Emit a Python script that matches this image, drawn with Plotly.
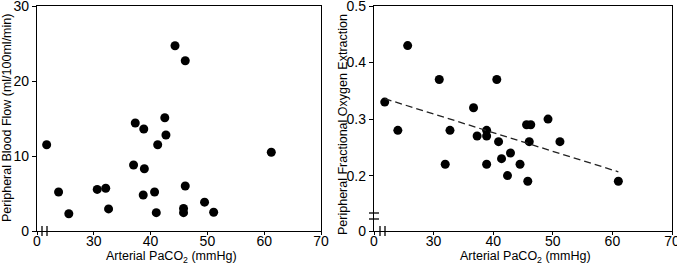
import plotly.graph_objects as go

# ---- data ----
flow_paco2 = [21.7, 23.8, 25.6, 30.6, 32.1, 32.6, 37.0, 37.3, 38.8, 38.9, 38.7, 40.7,
              41.0, 41.25, 42.5, 42.7, 44.3, 46.1, 46.1, 45.8, 45.8, 49.5, 51.1, 61.25]
flow_values = [11.5, 5.2, 2.3, 5.55, 5.7, 2.95, 8.8, 14.4, 13.6, 8.3, 4.8, 5.2,
               2.45, 11.5, 15.1, 12.8, 24.7, 22.7, 6.0, 3.0, 2.45, 3.85, 2.5, 10.5]

ofe_paco2 = [21.8, 24.0, 25.65, 30.95, 31.95, 32.75, 36.7, 37.3, 38.9, 38.9, 38.9, 40.6,
             40.9, 41.4, 42.4, 42.9, 44.5, 45.6, 46.3, 46.05, 45.8, 49.2, 51.2, 61.0]
ofe_values = [0.33, 0.28, 0.43, 0.37, 0.22, 0.28, 0.32, 0.27, 0.28, 0.27, 0.22, 0.37,
              0.26, 0.23, 0.20, 0.24, 0.22, 0.29, 0.29, 0.26, 0.19, 0.30, 0.26, 0.19]

# regression line
fit_slope = -0.0033
fit_intercept = 0.408

x_tickvals = [20, 30, 40, 50, 60, 70]
x_ticktext = ["0", "30", "40", "50", "60", "70"]
flow_tickvals = [0, 10, 20, 30]
flow_ticktext = ["0", "10", "20", "30"]
ofe_tickvals = [0.102, 0.2, 0.3, 0.4, 0.5]
ofe_ticktext = ["0", "0.2", "0.3", "0.4", "0.5"]

x_title = "Arterial PaCO<sub>2</sub> (mmHg)"
flow_title = "Peripheral Blood Flow (ml/100ml/min)"
ofe_title = "Peripheral Fractional Oxygen Extraction"

# ---- figure ----
W, H = 677, 269
FONT = "Liberation Sans, Arial, sans-serif"

fig = go.Figure()

marker = dict(color="black", size=9, line=dict(width=0))

fig.add_trace(go.Scatter(x=flow_paco2, y=flow_values, mode="markers",
                         marker=marker, xaxis="x", yaxis="y", showlegend=False,
                         cliponaxis=False))
fig.add_trace(go.Scatter(x=ofe_paco2, y=ofe_values, mode="markers",
                         marker=marker, xaxis="x2", yaxis="y2", showlegend=False,
                         cliponaxis=False))

lx = [min(ofe_paco2), max(ofe_paco2)]
ly = [fit_intercept + fit_slope * v for v in lx]
fig.add_trace(go.Scatter(x=lx, y=ly, mode="lines",
                         line=dict(color="#222", width=1.3, dash="7px,4px"),
                         xaxis="x2", yaxis="y2", showlegend=False))

def px2paper_x(px):
    return px / W

def py2paper_y(py):
    return 1 - py / H

ydom = [py2paper_y(231), py2paper_y(6)]

axis_common = dict(showgrid=False, zeroline=False, showline=True, linecolor="black",
                   linewidth=1.4, mirror=True, ticks="outside",
                   tickwidth=1.3, tickcolor="black", automargin=False,
                   ticklabeloverflow="allow",
                   tickfont=dict(family=FONT, size=14, color="black"))
xaxis_extra = dict(ticklen=3, ticklabelstandoff=-6)
yaxis_extra = dict(ticklen=4)

fig.update_layout(
    template="none",
    width=W, height=H,
    margin=dict(l=0, r=0, t=0, b=0, pad=0),
    paper_bgcolor="white", plot_bgcolor="white",
    font=dict(family=FONT, color="black"),
    xaxis=dict(domain=[px2paper_x(37), px2paper_x(321)], range=[20, 70],
               tickmode="array", tickvals=x_tickvals, ticktext=x_ticktext,
               anchor="y", **axis_common, **xaxis_extra),
    yaxis=dict(domain=ydom, range=[0, 30], tickmode="array",
               tickvals=flow_tickvals, ticktext=flow_ticktext,
               anchor="x", **axis_common, **yaxis_extra),
    xaxis2=dict(domain=[px2paper_x(374), px2paper_x(672)], range=[20, 70],
                tickmode="array", tickvals=x_tickvals, ticktext=x_ticktext,
                anchor="y2", **axis_common, **xaxis_extra),
    yaxis2=dict(domain=ydom, range=[0.102, 0.5], tickmode="array",
                tickvals=ofe_tickvals, ticktext=ofe_ticktext,
                anchor="x2", **axis_common, **yaxis_extra),
)

# axis titles as annotations
ann_font = dict(family=FONT, size=12.5, color="black")
fig.add_annotation(text=x_title, x=px2paper_x(171), y=py2paper_y(257), xref="paper",
                   yref="paper", showarrow=False, font=ann_font,
                   xanchor="center", yanchor="middle")
fig.add_annotation(text=x_title, x=px2paper_x(525), y=py2paper_y(257), xref="paper",
                   yref="paper", showarrow=False, font=ann_font,
                   xanchor="center", yanchor="middle")
fig.add_annotation(text=flow_title, x=px2paper_x(7), y=py2paper_y(118), xref="paper",
                   yref="paper", showarrow=False, font=ann_font, textangle=-90,
                   xanchor="center", yanchor="middle")
fig.add_annotation(text=ofe_title, x=px2paper_x(343), y=py2paper_y(125), xref="paper",
                   yref="paper", showarrow=False, font=ann_font, textangle=-90,
                   xanchor="center", yanchor="middle")

# axis break marks
brk = dict(color="black", width=1.3)
for bx in (42, 47):
    fig.add_shape(type="line", xref="paper", yref="paper",
                  x0=px2paper_x(bx), x1=px2paper_x(bx),
                  y0=py2paper_y(226), y1=py2paper_y(236), line=brk)
for bx in (380, 385):
    fig.add_shape(type="line", xref="paper", yref="paper",
                  x0=px2paper_x(bx), x1=px2paper_x(bx),
                  y0=py2paper_y(226), y1=py2paper_y(236), line=brk)
for by in (213, 219):
    fig.add_shape(type="line", xref="paper", yref="paper",
                  x0=px2paper_x(369), x1=px2paper_x(379),
                  y0=py2paper_y(by), y1=py2paper_y(by), line=brk)

fig.write_html("out.html", config={"displayModeBar": False},
               post_script="document.body.style.margin='0';document.body.style.padding='0';")
